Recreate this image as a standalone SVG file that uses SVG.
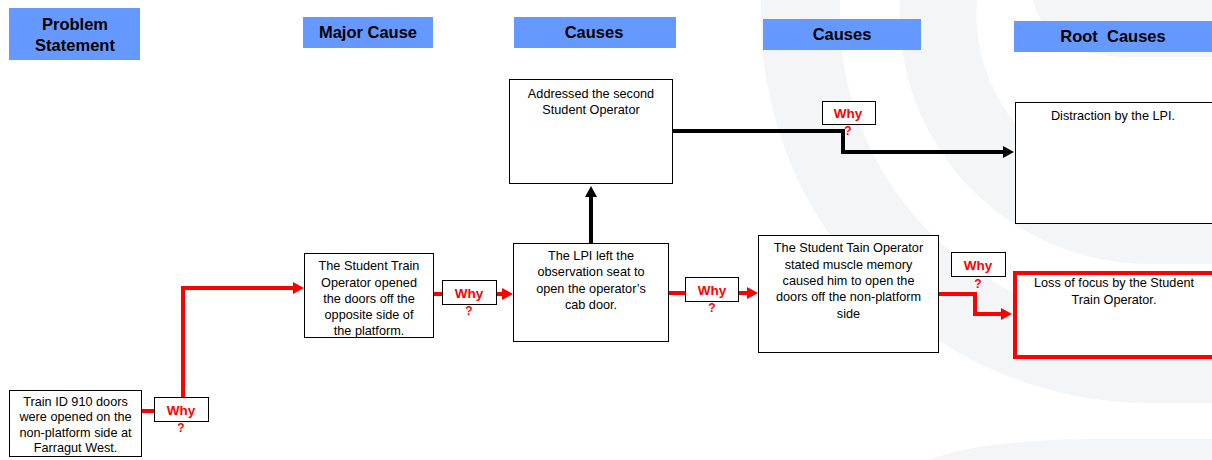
<svg xmlns="http://www.w3.org/2000/svg" width="1212" height="460" viewBox="0 0 1212 460">
<style>
.bg{fill:#f4f5f7;stroke:none}
.hdr{fill:#6699ff}
.ht{font-family:"Liberation Sans",Arial,sans-serif;font-weight:bold;font-size:16.5px;fill:#000;text-anchor:middle;white-space:pre}
.box{fill:#fff;stroke:#000;stroke-width:1}
.rbox{fill:#fff;stroke:#ff0000;stroke-width:4}
.t{font-family:"Liberation Sans",Arial,sans-serif;font-size:12.7px;fill:#000;text-anchor:middle}
.why{fill:#fff;stroke:#000;stroke-width:1}
.wt{font-family:"Liberation Sans",Arial,sans-serif;font-weight:bold;font-size:13.5px;fill:#ff0000;text-anchor:middle}
.q{font-family:"Liberation Sans",Arial,sans-serif;font-weight:bold;font-size:12px;fill:#ff0000;text-anchor:middle}
.red{fill:none;stroke:#ff0000;stroke-width:4}
.blk{fill:none;stroke:#000;stroke-width:4}
</style>
<defs>
<marker id="ar" markerUnits="userSpaceOnUse" markerWidth="11" markerHeight="12" refX="1" refY="6" orient="auto"><path d="M0,0 L11,6 L0,12 z" fill="#ff0000"/></marker>
<marker id="ab" markerUnits="userSpaceOnUse" markerWidth="11" markerHeight="12" refX="1" refY="6" orient="auto"><path d="M0,0 L11,6 L0,12 z" fill="#000"/></marker>
</defs>
<rect width="1212" height="460" fill="#fff"/>
<g id="background">
<path class="bg" d="M761,0 A389,389 0 0 0 1150,403 L1212,403 L1212,324 L1150,324 A310,310 0 0 1 840,0 Z"/>
<path class="bg" d="M900,0 A250,250 0 0 0 1150,264 L1212,264 L1212,187 L1150,187 A173,173 0 0 1 977,0 Z"/>
<path class="bg" d="M1033,0 Q1045,57 1130,57 L1212,57 L1212,0 Z"/>
<path class="bg" d="M928,460 Q985,439 1100,439 L1212,439 L1212,460 Z"/>
</g>
<g id="headers">
<rect class="hdr" x="9" y="8" width="131" height="52"/>
<text class="ht" x="75" y="30">Problem</text>
<text class="ht" x="75" y="51">Statement</text>
<rect class="hdr" x="303" y="17" width="130" height="31"/>
<text class="ht" x="368" y="38">Major Cause</text>
<rect class="hdr" x="514" y="17" width="162" height="31"/>
<text class="ht" x="594" y="38">Causes</text>
<rect class="hdr" x="763" y="19" width="158" height="31"/>
<text class="ht" x="842" y="40">Causes</text>
<rect class="hdr" x="1014" y="21" width="198" height="31"/>
<text class="ht" x="1113" y="42">Root  Causes</text>
</g>
<g id="connectors">
<path class="red" d="M142,411 L154,411"/>
<path class="red" d="M183,397 L183,288 L294,288" marker-end="url(#ar)"/>
<path class="red" d="M434,294 L442,294"/>
<path class="red" d="M497,294 L503,294" marker-end="url(#ar)"/>
<path class="red" d="M669,293 L685,293"/>
<path class="red" d="M739,293 L748,293" marker-end="url(#ar)"/>
<path class="red" d="M939,294 L975,294 L975,314 L1002,314" marker-end="url(#ar)"/>
<path class="blk" d="M591,243 L591,196" marker-end="url(#ab)"/>
<path class="blk" d="M673,131 L843,131 L843,152 L1004,152" marker-end="url(#ab)"/>
</g>
<g id="node-problem">
<rect class="box" x="9.5" y="390.5" width="132" height="66"/>
<text class="t" x="75.5" y="405.5">Train ID 910 doors</text>
<text class="t" x="75.5" y="421">were opened on the</text>
<text class="t" x="75.5" y="436.5">non-platform side at</text>
<text class="t" x="75.5" y="452">Farragut West.</text>
</g>
<g id="node-major">
<rect class="box" x="304.5" y="253.5" width="129" height="84"/>
<text class="t" x="369" y="270">The Student Train</text>
<text class="t" x="369" y="286.5">Operator opened</text>
<text class="t" x="369" y="302.5">the doors off the</text>
<text class="t" x="369" y="318.5">opposite side of</text>
<text class="t" x="369" y="334.5">the platform.</text>
</g>
<g id="node-lpi">
<rect class="box" x="513.5" y="243.5" width="155" height="98"/>
<text class="t" x="591" y="259.5">The LPI left the</text>
<text class="t" x="591" y="276">observation seat to</text>
<text class="t" x="591" y="292.5">open the operator’s</text>
<text class="t" x="591" y="308.5">cab door.</text>
</g>
<g id="node-addressed">
<rect class="box" x="509.5" y="79.5" width="163" height="104"/>
<text class="t" x="591" y="97.5">Addressed the second</text>
<text class="t" x="591" y="114">Student Operator</text>
</g>
<g id="node-muscle">
<rect class="box" x="758.5" y="235.5" width="180" height="117"/>
<text class="t" x="848.5" y="252">The Student Tain Operator</text>
<text class="t" x="848.5" y="268.5">stated muscle memory</text>
<text class="t" x="848.5" y="284.5">caused him to open the</text>
<text class="t" x="848.5" y="300.5">doors off the non-platform</text>
<text class="t" x="848.5" y="317.5">side</text>
</g>
<g id="node-distraction">
<rect class="box" x="1015.5" y="102.5" width="200" height="121"/>
<text class="t" x="1113" y="120">Distraction by the LPI.</text>
</g>
<g id="node-focus">
<rect class="rbox" x="1015" y="273" width="205" height="84"/>
<text class="t" x="1114" y="287">Loss of focus by the Student</text>
<text class="t" x="1114" y="304">Train Operator.</text>
</g>
<g id="why-1">
<rect class="why" x="154.5" y="397.5" width="54" height="24"/>
<text class="wt" x="181" y="415">Why</text>
<text class="q" x="181" y="432">?</text>
</g>
<g id="why-2">
<rect class="why" x="442.5" y="280.5" width="54" height="24"/>
<text class="wt" x="469" y="298">Why</text>
<text class="q" x="469" y="315">?</text>
</g>
<g id="why-3">
<rect class="why" x="685.5" y="277.5" width="53" height="24"/>
<text class="wt" x="712" y="295">Why</text>
<text class="q" x="712" y="312">?</text>
</g>
<g id="why-4">
<rect class="why" x="822.5" y="101.5" width="53" height="23"/>
<text class="wt" x="848" y="118">Why</text>
<text class="q" x="848" y="135">?</text>
</g>
<g id="why-5">
<rect class="why" x="951.5" y="252.5" width="54" height="24"/>
<text class="wt" x="978" y="270">Why</text>
<text class="q" x="978" y="288">?</text>
</g>
</svg>
